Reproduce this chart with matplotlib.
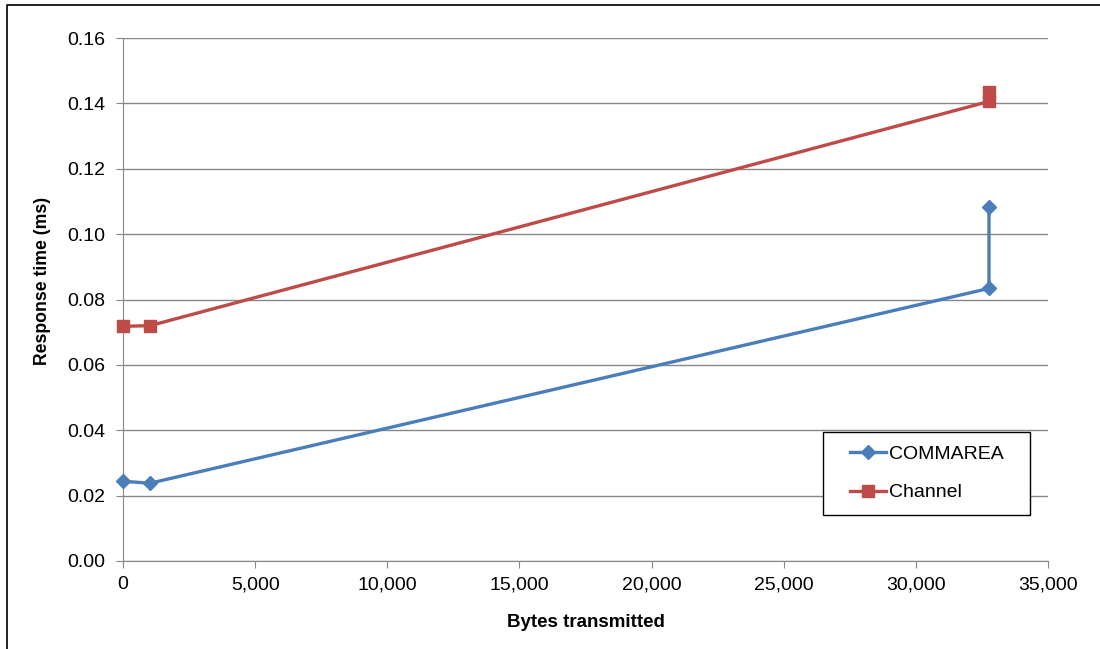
import matplotlib.pyplot as plt
from matplotlib.lines import Line2D
from matplotlib.patches import Rectangle

plt.rcParams['font.family'] = ['Liberation Sans', 'DejaVu Sans']

bytes_x = [0, 1024, 32768, 32768]
commarea = [0.0244, 0.0238, 0.0834, 0.1083]
channel = [0.0718, 0.0720, 0.1406, 0.1436]

fig = plt.figure(figsize=(11, 6.49), dpi=100)
ax = fig.add_axes([0.1118, 0.1356, 0.8409, 0.8058])

ax.plot(bytes_x, commarea, color='#4a7ebb', lw=2.4, marker='D', ms=7,
        label='COMMAREA', zorder=3, clip_on=False)
ax.plot(bytes_x, channel, color='#be4b48', lw=2.4, marker='s', ms=9,
        label='Channel', zorder=3, clip_on=False)

ax.set_xlim(0, 35000)
ax.set_ylim(0, 0.16)
ax.set_xticks(range(0, 35001, 5000))
ax.set_xticklabels([f'{v:,}' for v in range(0, 35001, 5000)])
ax.set_yticks([i * 0.02 for i in range(9)])
ax.set_yticklabels([f'{i * 0.02:.2f}' for i in range(9)])
ax.grid(axis='y', color='#878787', lw=1)
ax.set_axisbelow(True)
for s in ['top', 'right']:
    ax.spines[s].set_visible(False)
for s in ['left', 'bottom']:
    ax.spines[s].set_color('#878787')
ax.tick_params(labelsize=14, color='#878787', length=5)
ax.tick_params(axis='y', pad=8)
ax.tick_params(axis='x', pad=6)
ax.set_xlabel('Bytes transmitted', fontsize=13.5, fontweight='bold')
ax.set_ylabel('Response time (ms)', fontsize=12.7, fontweight='bold')
ax.xaxis.set_label_coords(0.5, -0.102)
ax.yaxis.set_label_coords(-0.078, 0.536)

# legend box drawn separately so its padding matches the original
fig.patches.append(Rectangle((0.7482, 0.2065), 0.1882, 0.1279, transform=fig.transFigure,
                             fill=True, facecolor='white', edgecolor='black', lw=1, zorder=4))
leg = fig.legend(loc='center', bbox_to_anchor=(0.8423, 0.2704), fontsize=14,
                 frameon=False, labelspacing=1.05, handlelength=1.85,
                 handletextpad=0.15, borderpad=0)
leg.set_zorder(5)

# the original is cropped: only the top and left edges of the frame show
fig.lines.append(Line2D([0.0064, 0.0064, 1], [0, 0.9923, 0.9923],
                        transform=fig.transFigure, color='black', lw=1.2))

fig.savefig('out.png', dpi=100)
